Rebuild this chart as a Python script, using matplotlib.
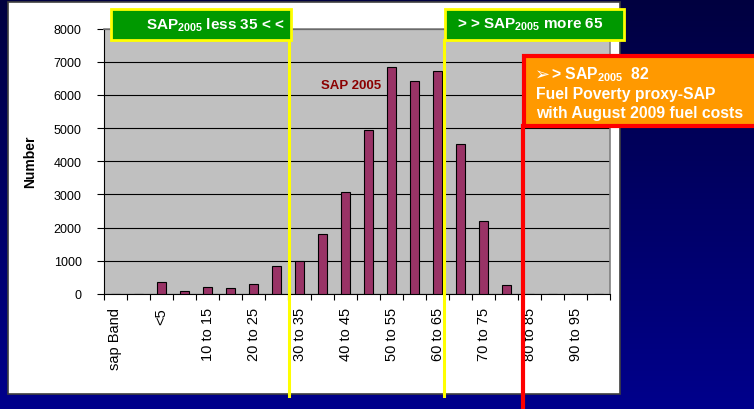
import numpy as np
import matplotlib.pyplot as plt
from matplotlib.patches import Rectangle

plt.rcParams['font.family'] = ['Liberation Sans', 'DejaVu Sans']
plt.rcParams['mathtext.fontset'] = 'custom'
plt.rcParams['mathtext.rm'] = 'Liberation Sans'
plt.rcParams['mathtext.bf'] = 'Liberation Sans:bold'

# SAP bands (every other one is labelled on the axis, like the Excel original)
bands = ['sap Band', '', '<5', '5 to 10', '10 to 15', '15 to 20', '20 to 25',
         '25 to 30', '30 to 35', '35 to 40', '40 to 45', '45 to 50', '50 to 55',
         '55 to 60', '60 to 65', '65 to 70', '70 to 75', '75 to 80', '80 to 85',
         '85 to 90', '90 to 95', '95 to 100']
counts = [0, 0, 360, 80, 210, 190, 310, 835, 1005, 1800, 3060, 4935, 6830,
          6415, 6730, 4510, 2205, 260, 0, 0, 0, 0]
yticks = [0, 1000, 2000, 3000, 4000, 5000, 6000, 7000, 8000]

# where the marker lines cross the band axis
sap_low = 7.55
sap_high = 14.3
sap_fuel = 17.7

W, H = 754, 410
fig = plt.figure(figsize=(W / 100, H / 100), dpi=100)

def fx(px):
    return px / W

def fy(py):
    return 1 - py / H

# navy gradient background
bg = fig.add_axes([0, 0, 1, 1], zorder=-10)
grad = np.linspace(0, 1, 256).reshape(-1, 1)
top = np.array([0x00, 0x00, 0x40]) / 255
bot = np.array([0x00, 0x00, 0x8C]) / 255
img = top[None, None, :] * (1 - grad[:, :, None]) + bot[None, None, :] * grad[:, :, None]
bg.imshow(img, aspect='auto', extent=[0, 1, 0, 1])
bg.set_axis_off()

# white chart panel with a dark edge
fig.patches.append(Rectangle((fx(8), fy(395)), fx(612), 392 / H, transform=fig.transFigure,
                             facecolor='white', edgecolor='#404040', lw=1.2, zorder=-5))

ax = fig.add_axes([fx(104), fy(295), fx(506), 265.5 / H])
ax.set_facecolor('#C0C0C0')
x = np.arange(len(bands))
ax.bar(x, counts, width=0.4, color='#993366', edgecolor='black', lw=0.8, zorder=3)

ax.set_xlim(-0.5, len(bands) - 0.5)
ax.set_ylim(0, 8000)
ax.set_yticks(yticks)
ax.set_yticklabels([str(v) for v in yticks], fontsize=9)
ax.yaxis.grid(True, color='black', lw=0.8)
ax.set_axisbelow(True)
ax.tick_params(axis='y', length=5, width=0.8, pad=11)

ax.set_xticks(x)
ax.set_xticklabels([b if i % 2 == 0 else '' for i, b in enumerate(bands)],
                   rotation=90, fontsize=10.5)
ax.tick_params(axis='x', which='major', length=0, pad=9.5)
ax.set_xticks(np.arange(len(bands) + 1) - 0.5, minor=True)
ax.tick_params(axis='x', which='minor', length=4, width=0.8)

for s in ['left', 'bottom']:
    ax.spines[s].set_color('black')
    ax.spines[s].set_linewidth(0.8)
for s in ['top', 'right']:
    ax.spines[s].set_color('#808080')
    ax.spines[s].set_linewidth(1.2)

ax.set_ylabel('Number', fontsize=10, fontweight='bold')
ax.yaxis.set_label_coords((37 - 104) / 506, 0.5)

ax.text(10.24, 6290, 'SAP 2005', color='#8B0000', fontsize=9.5, fontweight='bold',
        ha='center', va='center', zorder=4)

# marker lines
ax.axvline(sap_low, ymin=(295 - 397) / 265.5, ymax=(295 - 41) / 265.5,
           color='#FFFF00', lw=2.2, clip_on=False, zorder=5)
ax.axvline(sap_high, ymin=(295 - 397) / 265.5, ymax=(295 - 41) / 265.5,
           color='#FFFF00', lw=2.2, clip_on=False, zorder=5)
ax.axvline(sap_fuel, ymin=(295 - 412) / 265.5, ymax=(295 - 127) / 265.5,
           color='#FF0000', lw=3, clip_on=False, zorder=5)

# green labels
fig.patches.append(Rectangle((fx(111), fy(41)), fx(180), 31 / H, transform=fig.transFigure,
                             facecolor='#009900', edgecolor='#FFFF00', lw=2, zorder=6))
fig.text(fx(284), fy(25), r'$\mathbf{SAP}_{\mathbf{2005}}$ less 35 < <', color='white',
         fontsize=11, fontweight='bold', ha='right', va='center', zorder=7)
fig.patches.append(Rectangle((fx(445), fy(41)), fx(179), 31 / H, transform=fig.transFigure,
                             facecolor='#009900', edgecolor='#FFFF00', lw=2, zorder=6))
fig.text(fx(457), fy(25), r'> > $\mathbf{SAP}_{\mathbf{2005}}$ more 65', color='white',
         fontsize=11, fontweight='bold', ha='left', va='center', zorder=7)

# orange label
fig.patches.append(Rectangle((fx(524), fy(127)), fx(240), 70 / H, transform=fig.transFigure,
                             facecolor='#FF9900', edgecolor='#FF0000', lw=3, zorder=6))
fig.text(fx(535), fy(75), '\u27a2', color='white', fontsize=13,
         family=['DejaVu Sans'], ha='left', va='center', zorder=7)
fig.text(fx(551), fy(75), r'> $\mathbf{SAP}_{\mathbf{2005}}$  82', color='white',
         fontsize=11.3, fontweight='bold', ha='left', va='center', zorder=7)
fig.text(fx(536), fy(94.5), 'Fuel Poverty proxy-SAP', color='white',
         fontsize=11.3, fontweight='bold', ha='left', va='center', zorder=7)
fig.text(fx(536), fy(113.5), 'with August 2009 fuel costs', color='white',
         fontsize=11.3, fontweight='bold', ha='left', va='center', zorder=7)

fig.savefig('out.png', dpi=100)
